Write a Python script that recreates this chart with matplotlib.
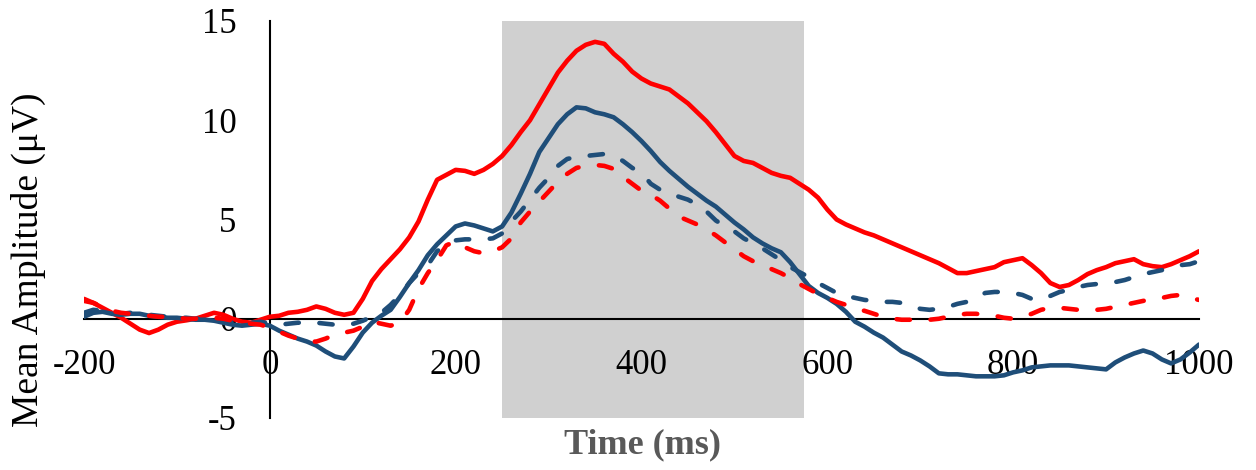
import numpy as np
import matplotlib
matplotlib.use('Agg')
import matplotlib.pyplot as plt

plt.rcParams['axes.unicode_minus'] = False

'''
ERP waveforms read off the figure, one value every 10 ms
'''
time_ms = np.arange(-200, 1001, 10)

red_solid = [
    0.9, 0.8, 0.55, 0.3, 0.05, -0.25, -0.55, -0.72, -0.55, -0.3,
    -0.15, -0.08, 0.0, 0.15, 0.3, 0.2, 0.0, -0.15, -0.2, -0.05,
    0.1, 0.15, 0.3, 0.35, 0.45, 0.62, 0.5, 0.3, 0.2, 0.3,
    1.0, 1.9, 2.5, 3.0, 3.5, 4.1, 4.9, 6.0, 7.0, 7.25,
    7.5, 7.45, 7.3, 7.5, 7.8, 8.2, 8.75, 9.4, 10.0, 10.8,
    11.6, 12.4, 13.0, 13.5, 13.8, 13.95, 13.85, 13.35, 12.95, 12.45,
    12.1, 11.85, 11.7, 11.55, 11.2, 10.85, 10.4, 9.95, 9.4, 8.8,
    8.2, 7.95, 7.85, 7.6, 7.35, 7.2, 7.1, 6.8, 6.5, 6.1,
    5.5, 5.0, 4.75, 4.55, 4.35, 4.2, 4.0, 3.8, 3.6, 3.4,
    3.2, 3.0, 2.8, 2.55, 2.3, 2.3, 2.4, 2.5, 2.6, 2.85,
    2.95, 3.05, 2.7, 2.3, 1.8, 1.6, 1.7, 1.95, 2.25, 2.45,
    2.6, 2.8, 2.9, 3.0, 2.75, 2.65, 2.6, 2.75, 2.95, 3.15,
    3.4,
]

blue_solid = [
    0.1, 0.3, 0.35, 0.25, 0.2, 0.25, 0.25, 0.15, 0.1, 0.05,
    0.05, 0.0, -0.05, -0.05, -0.1, -0.2, -0.3, -0.35, -0.3, -0.25,
    -0.35, -0.6, -0.8, -1.0, -1.15, -1.35, -1.65, -1.9, -2.0, -1.4,
    -0.7, -0.2, 0.15, 0.45, 1.1, 1.8, 2.45, 3.2, 3.75, 4.2,
    4.65, 4.8, 4.7, 4.55, 4.4, 4.65, 5.35, 6.3, 7.3, 8.4,
    9.1, 9.8, 10.3, 10.65, 10.6, 10.4, 10.3, 10.15, 9.8, 9.4,
    8.95, 8.45, 7.9, 7.45, 7.05, 6.65, 6.3, 5.95, 5.65, 5.25,
    4.85, 4.5, 4.1, 3.8, 3.55, 3.35, 2.85, 2.25, 1.65, 1.3,
    1.05, 0.75, 0.35, -0.15, -0.4, -0.7, -0.95, -1.3, -1.65, -1.85,
    -2.1, -2.4, -2.75, -2.8, -2.8, -2.85, -2.9, -2.9, -2.9, -2.85,
    -2.7, -2.6, -2.45, -2.4, -2.35, -2.35, -2.35, -2.4, -2.45, -2.5,
    -2.55, -2.2, -1.95, -1.75, -1.6, -1.75, -2.05, -2.25, -2.05, -1.7,
    -1.3,
]

blue_dashed = [
    0.3, 0.45, 0.4, 0.3, 0.25, 0.3, 0.25, 0.2, 0.15, 0.1,
    0.05, 0.05, 0.0, 0.0, -0.05, -0.1, -0.2, -0.25, -0.2, -0.15,
    -0.25, -0.3, -0.25, -0.2, -0.2, -0.2, -0.25, -0.3, -0.3, -0.25,
    -0.1, 0.1, 0.3, 0.7, 1.2, 1.8, 2.3, 2.7, 3.4, 3.75,
    3.95, 4.0, 4.0, 4.0, 4.05, 4.3, 4.9, 5.4, 6.0, 6.6,
    7.1, 7.7, 8.05, 8.15, 8.2, 8.25, 8.3, 8.2, 7.95, 7.6,
    7.35, 6.8, 6.5, 6.35, 6.15, 6.0, 5.75, 5.4, 4.95, 4.65,
    4.4, 4.05, 3.8, 3.55, 3.25, 2.95, 2.6, 2.35, 2.1, 1.8,
    1.55, 1.3, 1.15, 1.05, 0.95, 0.9, 0.85, 0.85, 0.8, 0.65,
    0.5, 0.45, 0.5, 0.6, 0.75, 0.85, 1.1, 1.3, 1.35, 1.35,
    1.3, 1.2, 1.0, 0.95, 1.15, 1.35, 1.45, 1.6, 1.7, 1.75,
    1.8, 1.85, 1.95, 2.1, 2.25, 2.35, 2.45, 2.6, 2.7, 2.75,
    2.9,
]

red_dashed = [
    1.0, 0.8, 0.6, 0.4, 0.3, 0.25, 0.2, 0.15, 0.1, 0.1,
    0.05, 0.0, 0.0, 0.05, 0.05, 0.0, -0.1, -0.2, -0.25, -0.3,
    -0.45, -0.65, -0.85, -1.0, -1.15, -1.15, -1.0, -0.8, -0.7, -0.6,
    -0.4, -0.15, -0.25, -0.35, -0.2, 0.45, 1.5, 2.3, 2.95, 3.7,
    3.9, 3.6, 3.4, 3.3, 3.4, 3.6, 4.05, 4.85, 5.4, 5.9,
    6.4, 6.9, 7.3, 7.6, 7.7, 7.75, 7.7, 7.55, 7.15, 6.8,
    6.45, 6.25, 5.95, 5.55, 5.15, 4.95, 4.75, 4.5, 4.2, 3.85,
    3.5, 3.15, 2.9, 2.7, 2.5, 2.3, 2.05, 1.75, 1.5, 1.25,
    1.05, 0.85, 0.7, 0.5, 0.4, 0.25, 0.1, 0.0, -0.05, -0.05,
    -0.05, -0.05, 0.0, 0.1, 0.2, 0.25, 0.25, 0.2, 0.15, 0.05,
    0.0, 0.1, 0.25, 0.45, 0.55, 0.55, 0.5, 0.45, 0.45, 0.45,
    0.5, 0.6, 0.7, 0.8, 0.9, 1.0, 1.05, 1.15, 1.2, 1.05,
    0.95,
]

window = (250, 575)
x_ticks = [-200, 0, 200, 400, 600, 800, 1000]
y_ticks = [-5, 0, 5, 10, 15]

RED = '#FF0000'
BLUE = '#1F4E79'
serif = ['Liberation Serif', 'DejaVu Serif']

fig = plt.figure(figsize=(12.56, 4.70), dpi=100)
ax = fig.add_axes([84 / 1256, 52 / 470, 1115 / 1256, 397 / 470])

ax.axvspan(window[0], window[1], color='#D0D0D0', lw=0, zorder=0)

kw = dict(lw=3.3, zorder=3, solid_capstyle='round')
ax.plot(time_ms, red_solid, color=RED, **kw)
ax.plot(time_ms, blue_solid, color=BLUE, **kw)
ax.plot(time_ms, blue_dashed, color=BLUE, dashes=(2.9, 4.5),
        dash_capstyle='round', lw=3.3, zorder=3)
ax.plot(time_ms, red_dashed, color=RED, dashes=(2.9, 4.5),
        dash_capstyle='round', lw=3.3, zorder=3)

ax.set_xlim(-200, 1000)
ax.set_ylim(-5, 15)
ax.spines['left'].set_position(('data', 0))
ax.spines['bottom'].set_position(('data', 0))
ax.spines['top'].set_visible(False)
ax.spines['right'].set_visible(False)
for s in ('left', 'bottom'):
    ax.spines[s].set_linewidth(1.5)
    ax.spines[s].set_zorder(2.5)

ax.set_xticks(x_ticks)
ax.set_yticks(y_ticks)
ax.tick_params(axis='both', length=0, labelsize=25)
ax.tick_params(axis='x', pad=22)
ax.tick_params(axis='y', pad=24)
for lab in ax.get_xticklabels() + ax.get_yticklabels():
    lab.set_family(serif)
ax.set_facecolor('none')

fig.text(28 / 1256, 1 - 260 / 470, 'Mean Amplitude (μV)', rotation=90,
         ha='center', va='center', fontsize=27, family=serif)
fig.text(642 / 1256, 1 - 445 / 470, 'Time (ms)', ha='center', va='center',
         fontsize=26, fontweight='bold', color='#595959', family=serif)

fig.savefig('out.png', dpi=100)
